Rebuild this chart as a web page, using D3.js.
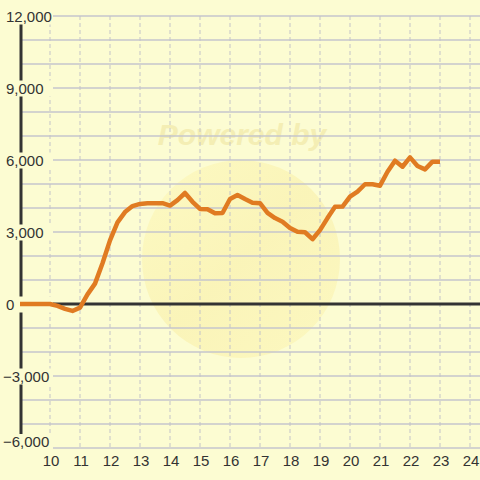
<!DOCTYPE html>
<html>
<head>
<meta charset="utf-8">
<script src="https://cdn.jsdelivr.net/npm/d3@7"></script>
<style>
  html, body { margin: 0; padding: 0; background: #fcfcd2; }
  text { font-family: "Liberation Sans", Arial, sans-serif; }
</style>
</head>
<body>
<script>
// hours (quarter steps) and values
var hours = [9, 9.25, 9.5, 9.75, 10, 10.25, 10.5, 10.75, 11, 11.25, 11.5, 11.75,
  12, 12.25, 12.5, 12.75, 13, 13.25, 13.5, 13.75, 14, 14.25, 14.5, 14.75,
  15, 15.25, 15.5, 15.75, 16, 16.25, 16.5, 16.75, 17, 17.25, 17.5, 17.75,
  18, 18.25, 18.5, 18.75, 19, 19.25, 19.5, 19.75, 20, 20.25, 20.5, 20.75,
  21, 21.25, 21.5, 21.75, 22, 22.25, 22.5, 22.75, 23];
var values = [0, 0, 0, 0, 0, -80, -200, -290, -150, 400, 850, 1700,
  2650, 3400, 3830, 4080, 4170, 4200, 4200, 4200, 4100, 4330, 4625, 4260,
  3960, 3950, 3780, 3790, 4375, 4540, 4375, 4220, 4200, 3800, 3580, 3430,
  3170, 3010, 2990, 2700, 3080, 3580, 4050, 4060, 4470, 4680, 4990, 4990,
  4930, 5510, 5970, 5720, 6110, 5750, 5610, 5930, 5930];
var xTicks = [10, 11, 12, 13, 14, 15, 16, 17, 18, 19, 20, 21, 22, 23, 24];
var yLabels = [12000, 9000, 6000, 3000, 0, -3000, -6000];
var yGrid = d3.range(-6000, 12001, 1000);

var W = 480, H = 480;
var bg = '#fcfcd2';

var svg = d3.select('body').append('svg')
  .attr('width', W).attr('height', H);

svg.append('rect').attr('width', W).attr('height', H).attr('fill', bg);

var x = d3.scaleLinear().domain([10, 24]).range([50, 470]);
var y = d3.scaleLinear().domain([-6000, 12000]).range([448, 16]);

// watermark
var grad = svg.append('defs').append('linearGradient')
  .attr('id', 'wm').attr('x1', '0').attr('y1', '0').attr('x2', '1').attr('y2', '1');
grad.append('stop').attr('offset', '0').attr('stop-color', '#fdf8b8');
grad.append('stop').attr('offset', '0.5').attr('stop-color', '#f9efa8');
grad.append('stop').attr('offset', '1').attr('stop-color', '#fcf5b4');
svg.append('circle').attr('cx', 241).attr('cy', 259).attr('r', 99)
  .attr('fill', 'url(#wm)').attr('opacity', 0.6);
svg.append('text').attr('x', 242).attr('y', 145)
  .attr('text-anchor', 'middle')
  .style('font-size', '30px').style('font-weight', 'bold').style('font-style', 'italic')
  .attr('fill', '#f4eeb4')
  .text('Powered by');

// horizontal grid
svg.append('g').selectAll('line').data(yGrid).enter().append('line')
  .attr('x1', 21).attr('x2', W)
  .attr('y1', function(d) { return y(d); })
  .attr('y2', function(d) { return y(d); })
  .attr('stroke', '#c6c6cc').attr('stroke-width', 1.3);

// vertical dashed grid
svg.append('g').selectAll('line').data(xTicks).enter().append('line')
  .attr('x1', function(d) { return x(d); })
  .attr('x2', function(d) { return x(d); })
  .attr('y1', y(12000)).attr('y2', y(-6000))
  .attr('stroke', '#c4c4c8').attr('stroke-width', 1)
  .attr('stroke-dasharray', '4,3');

// zero line and y axis line
svg.append('line').attr('x1', 21).attr('x2', W)
  .attr('y1', y(0)).attr('y2', y(0))
  .attr('stroke', '#333').attr('stroke-width', 3);
svg.append('line').attr('x1', 21).attr('x2', 21)
  .attr('y1', 24).attr('y2', y(-6000))
  .attr('stroke', '#333').attr('stroke-width', 3);

// y labels with background boxes (bottom one is pushed up to stay clear of the x labels)
function labelBase(d) { return Math.min(y(d) + 5.5, 447); }
var yl = svg.append('g').selectAll('g').data(yLabels).enter().append('g');
yl.append('rect')
  .attr('x', 0).attr('width', 53)
  .attr('y', function(d) { return labelBase(d) - 13; }).attr('height', 16)
  .attr('fill', bg);
yl.append('text')
  .attr('x', function(d) { return d < 0 ? 3 : 6; })
  .attr('y', labelBase)
  .style('font-size', '15px').attr('fill', '#333')
  .text(function(d) { return d3.format(',')(d); });

// x labels
svg.append('g').selectAll('text').data(xTicks).enter().append('text')
  .attr('x', function(d) { return x(d) + 1; })
  .attr('y', 466)
  .attr('text-anchor', 'middle')
  .style('font-size', '15px').attr('fill', '#333')
  .text(function(d) { return d; });

// data line
var line = d3.line()
  .x(function(d, i) { return x(hours[i]); })
  .y(function(d) { return y(d); });

svg.append('path').datum(values)
  .attr('d', line)
  .attr('fill', 'none')
  .attr('stroke', '#e07b22')
  .attr('stroke-width', 4.5)
  .attr('stroke-linejoin', 'round');
</script>
</body>
</html>
